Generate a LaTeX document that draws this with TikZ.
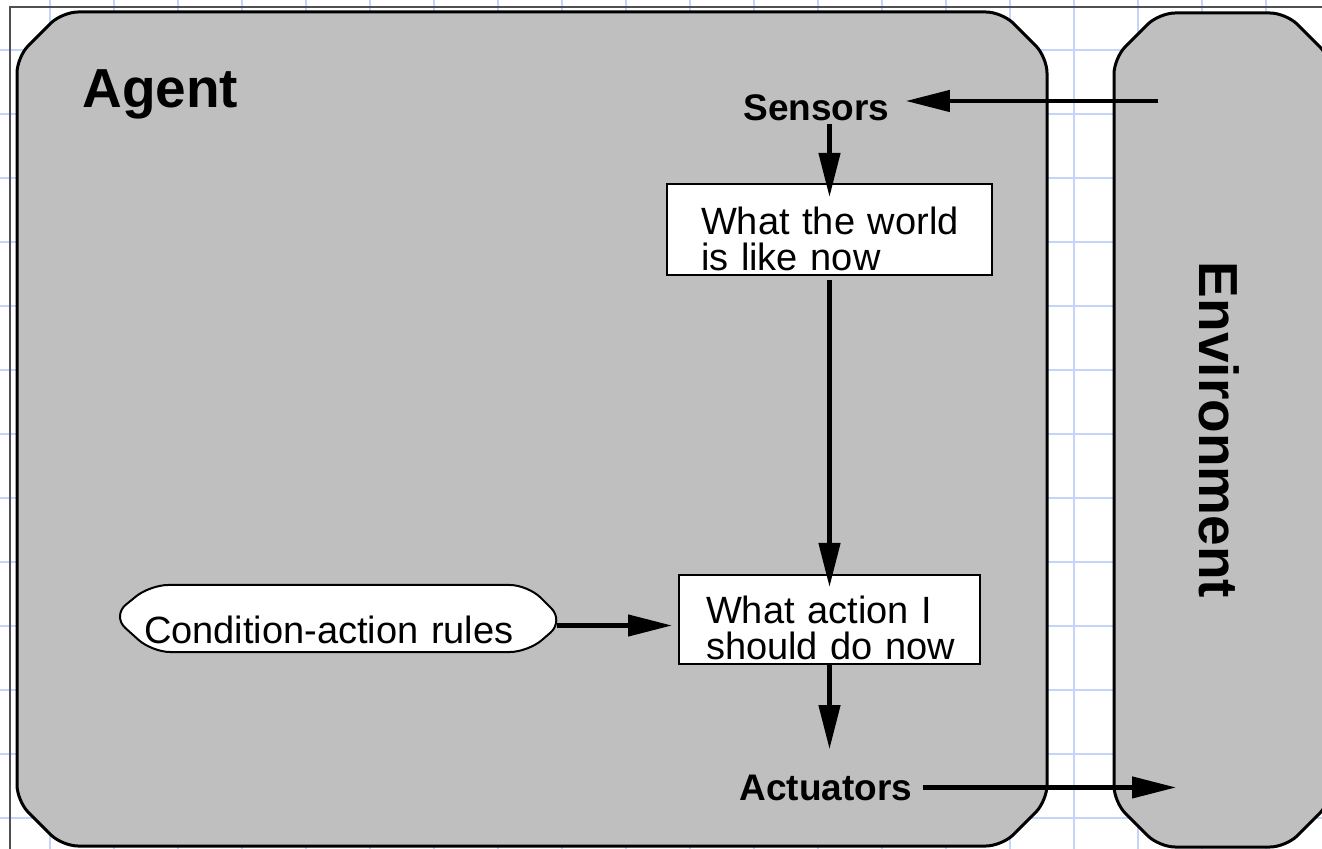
\documentclass[tikz,border=0pt]{standalone}
\usepackage{fontspec}
\setmainfont{Liberation Sans}
\usetikzlibrary{arrows.meta}

\definecolor{gridblue}{RGB}{198,212,250}
\definecolor{panelgray}{RGB}{191,191,191}
\definecolor{edgegray}{RGB}{80,80,80}

\tikzset{
  panel/.style={draw, line width=1.5pt, fill=panelgray, rounded corners=8pt},
  statebox/.style={draw, line width=1pt, fill=white, align=left, inner ysep=0pt,
    font=\fontsize{19pt}{18pt}\selectfont},
  ruleshape/.style={draw, line width=1pt, fill=white, rounded corners=9pt},
  io/.style={inner sep=1pt, font=\fontsize{18.5pt}{20pt}\selectfont\bfseries},
  title/.style={inner sep=0pt, font=\fontsize{27.5pt}{30pt}\selectfont\bfseries},
  conn/.style={line width=2.2pt, -{Triangle[length=22pt,width=10.5pt]}}
}

\begin{document}
\begin{tikzpicture}[x=0.5pt, y=-0.5pt]
        \useasboundingbox (0,0) rectangle (1322,849);

        % paper grid
        \foreach \gx in {50,114,...,1322}
          \draw[gridblue, line width=0.7pt] (\gx,0) -- (\gx,849);
        \foreach \gy in {50,114,...,849}
          \draw[gridblue, line width=0.7pt] (0,\gy) -- (1322,\gy);
        \draw[edgegray, line width=0.6pt] (10,849) -- (10,7) -- (1322,7);

        % the two panels
        \draw[panel] (17,57) -- (62,12) -- (1002,12) -- (1047,57) -- (1047,801)
          -- (1002,846) -- (62,846) -- (17,801) -- cycle;
        \draw[panel] (1114,58) -- (1159,13) -- (1286,13) -- (1331,58) -- (1331,802)
          -- (1286,847) -- (1159,847) -- (1114,802) -- cycle;

        \node[title, anchor=base west] (agenttitle) at (82,108) {Agent};
        \node[title, rotate=-90] (envtitle) at (1219,430) {Environment};

        \node[io, anchor=base west] (sensors) at (741,121) {Sensors};
        \node[io, anchor=base west] (actuators) at (737,800) {Actuators};

        \node[statebox, anchor=north west, inner xsep=17pt, text width=128.5pt,
          text height=25.5pt, text depth=20pt] (world) at (666,183)
          {\mbox{What the world}\\\mbox{is like now}};
        \node[statebox, anchor=north west, inner xsep=13.5pt, text width=123.5pt,
          text height=24pt, text depth=20.5pt] (action) at (678,574)
          {\mbox{What action I}\\\mbox{should do now}};

        % rules: pointed rounded outline, text on top
        \draw[ruleshape] (150,585) -- (528,585) -- (564,621) -- (528,652)
          -- (152,652) -- (112,616) -- cycle;
        \node[statebox, draw=none, fill=none, anchor=north west, inner xsep=12pt,
          text width=194pt, text height=28.5pt, text depth=5pt] (rules) at (119,585)
          {\mbox{Condition-action rules}};

        \coordinate (envin) at (1158,101);
        \coordinate (envout) at (1176,789);

        % percept and action flow
        \draw[conn, shorten >=7pt] (envin) -- (envin -| sensors.east);
        \draw[conn, shorten >=-7pt] (world.north |- sensors.south) -- (world.north);
        \draw[conn, shorten <=2pt, shorten >=-6.5pt] (world.south) -- (action.north);
        \draw[conn, shorten >=3pt] ([yshift=-3pt]rules.east) -- ([yshift=-3pt]rules.east -| action.west);
        \draw[conn, shorten >=11.5pt] (action.south) -- (action.south |- actuators.north);
        \draw[conn, shorten <=4pt] (actuators.east) -- (actuators.east -| envout);
\end{tikzpicture}
\end{document}
